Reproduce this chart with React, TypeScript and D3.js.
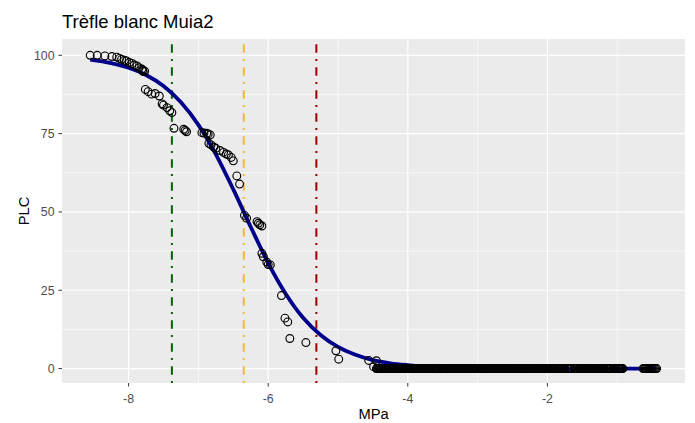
import { scaleLinear, line, curveMonotoneX } from 'd3';

const WIDTH = 695;
const HEIGHT = 423;
const PANEL = { left: 62, right: 685, top: 39, bottom: 383 };

const TITLE = 'Trèfle blanc Muia2';

// measured points (MPa, PLC) above zero
const pointMPa = [
  -8.55, -8.45, -8.34, -8.24, -8.17, -8.13, -8.1, -8.06, -8.03, -7.99, -7.95, -7.92, -7.88, -7.85,
  -7.81, -7.8, -7.79, -7.77,
  -7.76, -7.72, -7.67, -7.62, -7.56, -7.52, -7.5, -7.45, -7.41, -7.38,
  -7.35, -7.21, -7.19, -7.17,
  -6.95, -6.92, -6.88, -6.86, -6.83, -6.85, -6.82, -6.78, -6.75, -6.69, -6.64, -6.6, -6.57, -6.53,
  -6.5, -6.45, -6.41,
  -6.34, -6.31, -6.16, -6.14, -6.12, -6.09, -6.09, -6.07, -6.02, -6.0, -5.97,
  -5.81, -5.76, -5.72, -5.69, -5.46, -5.03, -4.99, -4.56, -4.45, -4.49,
];
const pointPLC = [
  100, 100, 99.8, 99.6, 99.4, 99.0, 98.7, 98.4, 98.2, 97.7, 97.4, 96.9, 96.6, 96.0,
  95.6, 95.3, 94.8, 94.9,
  89.1, 88.4, 87.6, 87.8, 87.0, 84.5, 84.1, 83.3, 82.3, 81.7,
  76.7, 76.4, 76.0, 75.6,
  75.3, 75.2, 75.1, 74.9, 74.6, 71.9, 71.4, 70.7, 70.3, 69.6, 69.0, 68.5, 68.2, 67.4,
  66.3, 61.5, 58.9,
  48.9, 48.0, 46.9, 46.4, 45.9, 45.5, 36.8, 35.7, 34.0, 33.2, 33.1,
  23.3, 16.1, 14.9, 9.6, 8.3, 5.7, 3.0, 2.6, 2.5, 0.6,
];

// measured points at PLC = 0 (first run)
const zeroPlcMPa = [
  -4.45, -4.43, -4.41, -4.39, -4.37, -4.35, -4.33, -4.31, -4.29, -4.27, -4.23, -4.21, -4.19, -4.17,
  -4.15, -4.13, -4.11, -4.09, -4.07, -4.05, -4.03, -4.01, -3.99, -3.97, -3.95, -3.93, -3.91, -3.89,
  -3.87, -3.85, -3.83, -3.81, -3.79, -3.77, -3.75, -3.73, -3.71, -3.69, -3.67, -3.65, -3.63, -3.61,
  -3.59, -3.57, -3.53, -3.51, -3.49, -3.47, -3.45, -3.43, -3.41, -3.39, -3.37, -3.35, -3.33, -3.31,
  -3.29, -3.27, -3.25, -3.23, -3.21, -3.19, -3.17, -3.15, -3.13, -3.11, -3.09, -3.07, -3.05, -3.03,
  -3.01, -2.97, -2.95, -2.93, -2.91, -2.89, -2.87, -2.85, -2.83, -2.81, -2.79, -2.77, -2.75, -2.73,
  -2.71, -2.69, -2.67, -2.65, -2.63, -2.61, -2.59, -2.57, -2.55, -2.53, -2.51, -2.49, -2.47, -2.45,
  -2.43, -2.41, -2.37, -2.35, -2.33, -2.31, -2.29, -2.27, -2.25, -2.21, -2.19, -2.17, -2.15, -2.13,
  -2.11, -2.09, -2.07, -2.05, -2.03, -2.01, -1.99, -1.97, -1.95, -1.93, -1.91, -1.89, -1.85, -1.83,
  -1.81, -1.79, -1.77, -1.75, -1.71, -1.69, -1.67, -1.65, -1.61, -1.59, -1.55, -1.53, -1.51, -1.49,
  -1.47, -1.45, -1.43, -1.41, -1.39, -1.37, -1.35, -1.33, -1.31, -1.29, -1.27, -1.25, -1.23, -1.21,
  -1.19, -1.15, -1.13, -1.11, -1.09, -1.07, -1.05, -1.03, -1.01, -0.99, -0.97, -0.95, -0.93, -0.92,
  -0.63, -0.615, -0.6, -0.585, -0.57, -0.555, -0.54, -0.525, -0.51, -0.495, -0.48, -0.465, -0.45, -0.435,
];

// measured points at PLC = 0 (second run)
const zeroPlcMPaB = [
  -4.44, -4.42, -4.4, -4.38, -4.36, -4.34, -4.32, -4.3, -4.28, -4.24, -4.22, -4.2, -4.16,
  -4.14, -4.12, -4.1, -4.08, -4.06, -4.04, -4.02, -4.0, -3.98, -3.96, -3.94, -3.92, -3.9, -3.88,
  -3.86, -3.84, -3.82, -3.8, -3.78, -3.76, -3.74, -3.72, -3.7, -3.68, -3.66, -3.64, -3.62, -3.6,
  -3.58, -3.5, -3.48, -3.46, -3.44, -3.42, -3.4, -3.38, -3.36, -3.34, -3.32, -3.3,
  -3.28, -3.26, -3.24, -3.22, -3.2, -3.18, -3.16, -3.14, -3.12, -3.1, -3.08, -3.06, -3.04, -3.02,
  -2.96, -2.94, -2.92, -2.9, -2.88, -2.86, -2.84, -2.82, -2.8, -2.78, -2.76, -2.74, -2.72,
  -2.7, -2.68, -2.66, -2.64, -2.62, -2.6, -2.58, -2.56, -2.54, -2.52, -2.5, -2.48, -2.46, -2.44,
  -2.42, -2.34, -2.32, -2.3, -2.28, -2.26, -2.2, -2.18, -2.16, -2.14, -2.12,
  -2.1, -2.08, -2.06, -2.04, -2.02, -2.0, -1.98, -1.96, -1.94, -1.92, -1.9, -1.82,
  -1.8, -1.78, -1.76, -1.72, -1.68, -1.66, -1.6, -1.54, -1.52, -1.5,
  -1.48, -1.46, -1.44, -1.42, -1.4, -1.38, -1.36, -1.34, -1.32, -1.3, -1.28, -1.26, -1.24, -1.22,
  -1.2, -1.14, -1.1, -1.06, -1.02, -0.98, -0.96, -0.94,
];

// fitted vulnerability curve
const fitMPa = [-8.55, -8.25, -8.0, -7.75, -7.5, -7.25, -7.0, -6.75, -6.5, -6.25, -6.0, -5.75, -5.5, -5.25, -5.0, -4.75, -4.5, -4.25, -4.0, -3.5, -3.0, -2.5, -2.0, -1.0, -0.44];
const fitPLC = [98.6, 97.5, 96.0, 93.7, 90.2, 85.0, 77.8, 68.4, 57.2, 45.2, 33.7, 23.9, 16.2, 10.7, 6.9, 4.4, 2.7, 1.7, 1.1, 0.4, 0.16, 0.06, 0.02, 0.0, 0.0];

// P88, P50, P12
const thresholdMPa = [-7.38, -6.35, -5.31];
const thresholdColors = ['#006400', '#F2B83A', '#9E0000'];

const xMajor = [-8, -6, -4, -2];
const xMinor = [-7, -5, -3, -1];
const yMajor = [0, 25, 50, 75, 100];
const yMinor = [12.5, 37.5, 62.5, 87.5];

export default function App() {
  const x = scaleLinear().domain([-8.954, -0.029]).range([PANEL.left, PANEL.right]);
  const y = scaleLinear().domain([-4.6, 105.2]).range([PANEL.bottom, PANEL.top]);

  const fitLine = line<number>()
    .x((d) => x(d))
    .y((_, i) => y(fitPLC[i]))
    .curve(curveMonotoneX);

  const font = '"Liberation Sans", Arial, sans-serif';
  const pw = PANEL.right - PANEL.left;
  const ph = PANEL.bottom - PANEL.top;
  const zeros = [...zeroPlcMPa, ...zeroPlcMPaB];

  return (
    <svg
      width={WIDTH}
      height={HEIGHT}
      viewBox={`0 0 ${WIDTH} ${HEIGHT}`}
      style={{ position: 'absolute', left: 0, top: 0, background: '#fff' }}
      fontFamily={font}
    >
      <rect x={PANEL.left} y={PANEL.top} width={pw} height={ph} fill="#EBEBEB" />

      {xMinor.map((t) => (
        <line key={'xm' + t} x1={x(t)} x2={x(t)} y1={PANEL.top} y2={PANEL.bottom} stroke="#fff" strokeWidth={0.6} />
      ))}
      {yMinor.map((t) => (
        <line key={'ym' + t} x1={PANEL.left} x2={PANEL.right} y1={y(t)} y2={y(t)} stroke="#fff" strokeWidth={0.6} />
      ))}
      {xMajor.map((t) => (
        <line key={'xM' + t} x1={x(t)} x2={x(t)} y1={PANEL.top} y2={PANEL.bottom} stroke="#fff" strokeWidth={1.2} />
      ))}
      {yMajor.map((t) => (
        <line key={'yM' + t} x1={PANEL.left} x2={PANEL.right} y1={y(t)} y2={y(t)} stroke="#fff" strokeWidth={1.2} />
      ))}

      {thresholdMPa.map((t, i) => (
        <line
          key={'v' + i}
          x1={x(t)}
          x2={x(t)}
          y1={PANEL.bottom}
          y2={PANEL.top}
          stroke={thresholdColors[i]}
          strokeWidth={2}
          strokeDasharray="2 6.3 8.4 6.3"
        />
      ))}

      <path d={fitLine(fitMPa) || ''} fill="none" stroke="#00008B" strokeWidth={3.8} strokeLinejoin="round" />

      <g fill="none" stroke="#000" strokeWidth={1.15}>
        {pointMPa.map((p, i) => (
          <circle key={'p' + i} cx={x(p)} cy={y(pointPLC[i])} r={3.9} />
        ))}
        {zeros.map((p, i) => (
          <circle key={'z' + i} cx={x(p)} cy={y(0)} r={3.9} />
        ))}
      </g>

      {xMajor.map((t) => (
        <g key={'xt' + t}>
          <line x1={x(t)} x2={x(t)} y1={PANEL.bottom} y2={PANEL.bottom + 3.5} stroke="#333" strokeWidth={1} />
          <text x={x(t)} y={PANEL.bottom + 20} textAnchor="middle" fontSize={12.3} fill="#4D4D4D">
            {t}
          </text>
        </g>
      ))}
      {yMajor.map((t) => (
        <g key={'yt' + t}>
          <line x1={PANEL.left - 3.5} x2={PANEL.left} y1={y(t)} y2={y(t)} stroke="#333" strokeWidth={1} />
          <text x={PANEL.left - 7.5} y={y(t) + 4.4} textAnchor="end" fontSize={12.3} fill="#4D4D4D">
            {t}
          </text>
        </g>
      ))}

      <text x={(PANEL.left + PANEL.right) / 2} y={419} textAnchor="middle" fontSize={14.7} fill="#000">
        MPa
      </text>
      <text
        transform={`translate(28.5, ${(PANEL.top + PANEL.bottom) / 2}) rotate(-90)`}
        textAnchor="middle"
        fontSize={14.7}
        fill="#000"
      >
        PLC
      </text>
      <text x={PANEL.left} y={28.3} fontSize={18.5} fill="#000">
        {TITLE}
      </text>
    </svg>
  );
}
